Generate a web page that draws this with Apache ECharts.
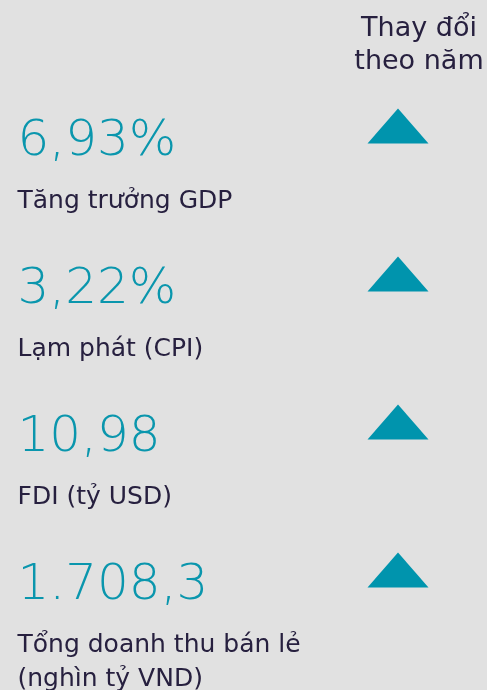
<!DOCTYPE html>
<html>
<head>
<meta charset="utf-8">
<script src="https://cdn.jsdelivr.net/npm/echarts@6/dist/echarts.min.js"></script>
<style>
  html, body { margin: 0; padding: 0; background: #e1e1e1; }
  #main { width: 487px; height: 690px; }
</style>
</head>
<body>
<div id="main"></div>
<script>
// indicators, top to bottom
var indicators = ['GDP', 'CPI', 'FDI', 'Bán lẻ'];
var values = ['6,93%', '3,22%', '10,98', '1.708,3'];
var names = ['Tăng trưởng GDP', 'Lạm phát (CPI)', 'FDI (tỷ USD)', 'Tổng doanh thu bán lẻ\n(nghìn tỷ VND)'];
var changes = ['up', 'up', 'up', 'up'];
var columns = ['Chỉ số', 'Thay đổi'];

var FONT = 'DejaVu Sans';
var TEAL = '#0094ad';
var NAVY = '#27203f';

var chart = echarts.init(document.getElementById('main'));

var textData = indicators.map(function (k, i) {
    return { value: [columns[0], k], idx: i };
});
var arrowData = indicators.map(function (k, i) {
    return {
        value: [columns[1], k],
        symbolRotate: changes[i] === 'up' ? 0 : 180
    };
});

chart.setOption({
    backgroundColor: '#e1e1e1',
    animation: false,
    title: {
        text: 'Thay đổi\ntheo năm',
        left: 414,
        top: 7,
        textAlign: 'center',
        textStyle: {
            fontFamily: FONT,
            fontWeight: 'normal',
            fontSize: 27,
            lineHeight: 33,
            color: NAVY
        }
    },
    grid: { left: 18, right: 89, top: 141, bottom: 105 },
    xAxis: {
        type: 'category',
        data: columns,
        boundaryGap: false,
        show: false
    },
    yAxis: {
        type: 'category',
        data: indicators,
        inverse: true,
        boundaryGap: false,
        show: false
    },
    series: [{
        type: 'scatter',
        name: 'text',
        data: textData,
        symbolSize: 1,
        itemStyle: { color: 'rgba(0,0,0,0)', opacity: 1 },
        emphasis: { disabled: true },
        label: {
            show: true,
            position: [0, -40],
            align: 'left',
            verticalAlign: 'top',
            formatter: function (p) {
                var i = p.data.idx;
                return '{v|' + values[i] + '}\n' + names[i].split('\n').map(function (s) {
                    return '{n|' + s + '}';
                }).join('\n');
            },
            rich: {
                v: { fontFamily: FONT, fontWeight: 300, fontSize: 50, lineHeight: 84, color: '#0a96ad' },
                n: { fontFamily: FONT, fontSize: 25, lineHeight: 34, color: NAVY }
            }
        }
    }, {
        type: 'scatter',
        name: 'change',
        data: arrowData,
        symbol: 'triangle',
        symbolSize: [61, 35],
        symbolOffset: [0, -15],
        itemStyle: { color: TEAL, opacity: 1 },
        emphasis: { disabled: true }
    }]
});
</script>
</body>
</html>
